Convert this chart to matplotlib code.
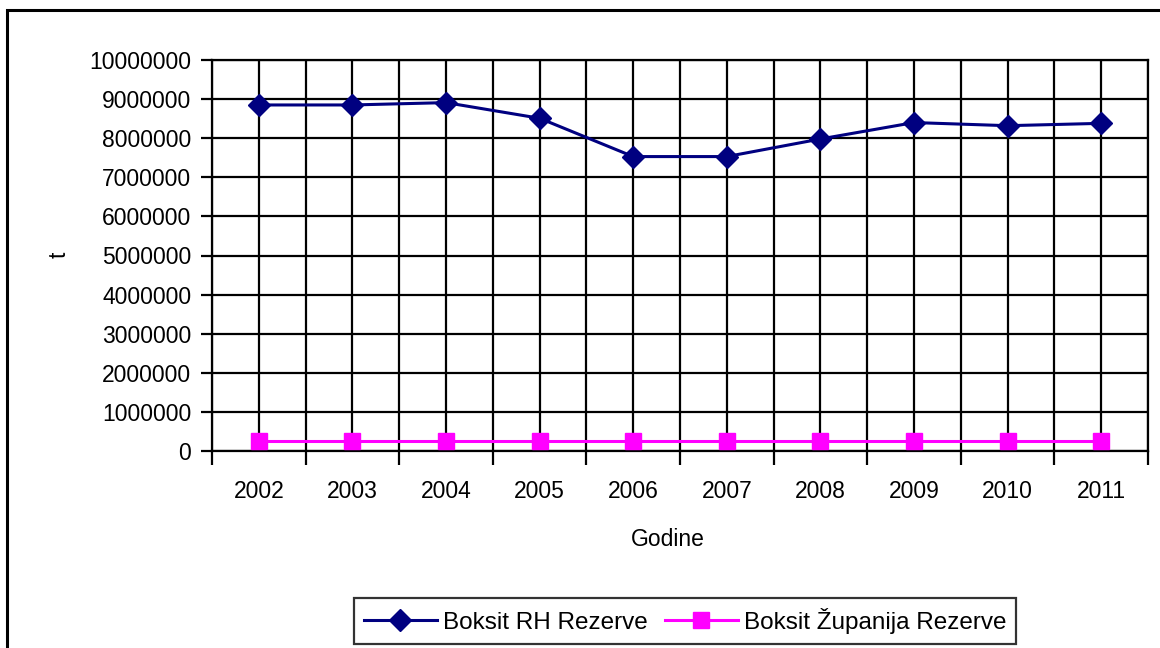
import matplotlib
matplotlib.use('Agg')
import matplotlib.pyplot as plt
import matplotlib.patches as patches
import numpy as np

# 数据
years = ['2002', '2003', '2004', '2005', '2006', '2007', '2008', '2009', '2010', '2011']
rh_rezerve = [8850000, 8850000, 8910000, 8510000, 7530000, 7530000, 7980000, 8400000, 8320000, 8380000]
zupanija_rezerve = [250000, 250000, 250000, 250000, 250000, 250000, 250000, 250000, 250000, 250000]
y_ticks = list(range(0, 10000001, 1000000))

plt.rcParams['font.family'] = ['Liberation Sans', 'DejaVu Sans']
plt.rcParams['font.size'] = 16.5

fig = plt.figure(figsize=(11.6, 6.48), dpi=100)
ax = fig.add_axes([212 / 1160, 1 - 451 / 648, (1148 - 212) / 1160, (451 - 60) / 648])

x = np.arange(len(years))
ax.plot(x, rh_rezerve, color='#000080', linewidth=2.2, marker='D', markersize=11,
        label='Boksit RH Rezerve', zorder=5, clip_on=False)
ax.plot(x, zupanija_rezerve, color='#FF00FF', linewidth=2.2, marker='s', markersize=11,
        label='Boksit Županija Rezerve', zorder=5, clip_on=False)

ax.set_xlim(-0.5, len(years) - 0.5)
ax.set_ylim(0, 10000000)
ax.set_yticks(y_ticks)
ax.set_yticklabels([str(v) for v in y_ticks])
ax.set_xticks(x)
ax.set_xticklabels(years)
ax.set_xticks(np.arange(-0.5, len(years)), minor=True)

# 网格
ax.grid(True, which='major', color='black', linewidth=1.6)
ax.grid(True, which='minor', axis='x', color='black', linewidth=1.6)
ax.tick_params(axis='x', which='major', length=0, pad=21)
ax.tick_params(axis='x', which='minor', length=10, width=1.6, direction='out')
ax.tick_params(axis='y', which='major', length=8, width=1.6, direction='out', pad=7)
for s in ax.spines.values():
    s.set_linewidth(1.6)
    s.set_color('black')

fig.text(59 / 1160, 1 - 255 / 648, 't', rotation=90, ha='center', va='center')
fig.text(668 / 1160, 1 - 540 / 648, 'Godine', ha='center', va='center')

leg = fig.legend(loc='center', bbox_to_anchor=(685 / 1160, 1 - 621 / 648), ncol=2,
                 frameon=True, fancybox=False, edgecolor='black', handlelength=3.0,
                 handletextpad=0.25, columnspacing=0.7, borderpad=0.4, fontsize=17.5)
leg.get_frame().set_linewidth(1.6)

# 外框
frame = patches.Rectangle((7 / 1160, -0.2), 1.2, 1.2 - 10 / 648,
                          transform=fig.transFigure, fill=False, edgecolor='black',
                          linewidth=2.2, clip_on=False)
fig.patches.append(frame)

fig.savefig('out.png', dpi=100)
